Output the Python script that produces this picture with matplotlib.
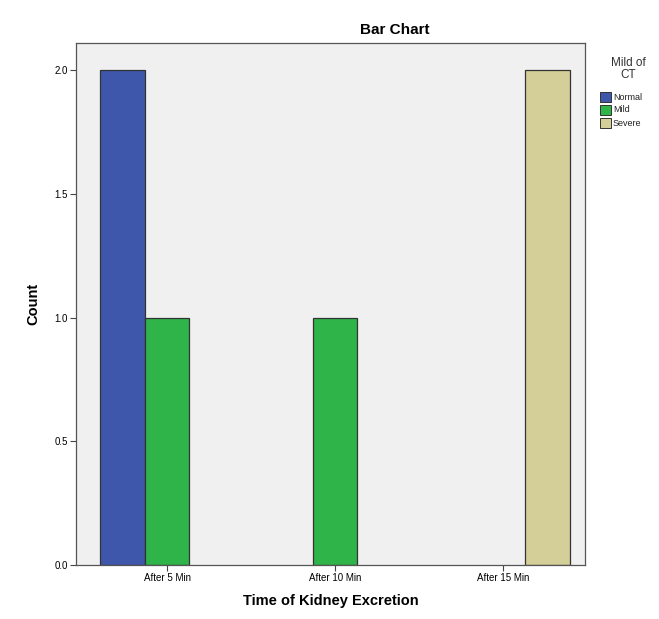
import numpy as np
import matplotlib.pyplot as plt
from matplotlib.patches import Rectangle

plt.rcParams['font.family'] = ['Liberation Sans', 'DejaVu Sans']

categories = ["After 5 Min", "After 10 Min", "After 15 Min"]
series = ["Normal", "Mild", "Severe"]
normal = [2, 0, 0]
mild = [1, 1, 0]
severe = [0, 0, 2]
colors = ['#3e57aa', '#2fb44a', '#d4cf98']

fig = plt.figure(figsize=(6.59, 6.19), dpi=100)
ax = fig.add_axes([0.1153, 0.0872, 0.7724, 0.8433])
ax.set_facecolor('#f0f0f0')

x = np.arange(len(categories))
w = 0.267
for i, (vals, c) in enumerate(zip([normal, mild, severe], colors)):
    vals = np.array(vals, dtype=float)
    keep = vals > 0  # empty cells get no bar at all
    ax.bar(x[keep] + (i - 1) * w, vals[keep], width=w, color=c,
           edgecolor='#333333', linewidth=0.9)

ax.set_xlim(-0.542, 2.488)
ax.set_ylim(0, 2.11)
ax.set_xticks(x)
ax.set_xticklabels(categories, fontsize=7)
ax.set_yticks([0.0, 0.5, 1.0, 1.5, 2.0])
ax.set_yticklabels(["0.0", "0.5", "1.0", "1.5", "2.0"], fontsize=7)
ax.tick_params(direction='out', length=4, width=0.8, color='#444444', pad=2)
for s in ax.spines.values():
    s.set_color('#555555')
    s.set_linewidth(0.9)

ax.set_ylabel("Count", fontsize=10.5, fontweight='bold', labelpad=10)
ax.set_xlabel("Time of Kidney Excretion", fontsize=10.5, fontweight='bold', labelpad=8)
fig.text(395 / 659, 1 - 30 / 619, "Bar Chart", fontsize=11, fontweight='bold',
         ha='center', va='center')

# legend drawn by hand on the right
fig.text(628 / 659, 1 - 69 / 619, "Mild of\nCT", fontsize=8.5, ha='center',
         va='center', linespacing=1.0, color='#333333')
for i, (name, c) in enumerate(zip(series, colors)):
    yy = 1 - (97 + i * 13) / 619
    fig.patches.append(Rectangle((600 / 659, yy - 5 / 619), 11 / 659, 10 / 619,
                                 transform=fig.transFigure, facecolor=c,
                                 edgecolor='#333333', linewidth=0.7))
    fig.text(613 / 659, yy, name, fontsize=6.5, va='center', color='#222222')

fig.savefig('out.png', dpi=100)
